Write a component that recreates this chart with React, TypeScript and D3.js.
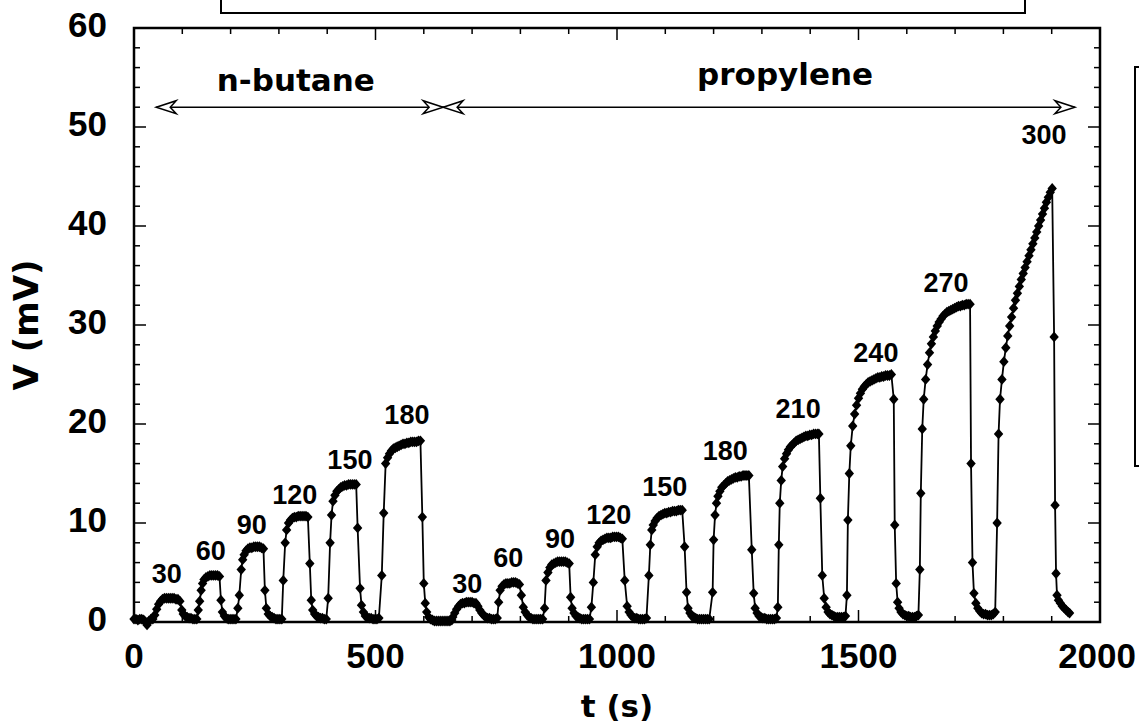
import React from "react";
import * as d3 from "d3";

// ---------- data (t in s, V in mV) ----------
const nButane: [number, number][] = [
  [0,0.3],[4,0.3],[8,0.2],[12,0.3],[16,0.3],[20,0.2],[24,0.0],[27,-0.3],[31,0.1],[35,0.3],[39,0.3],
  [43,0.7],[47,1.3],[51,1.8],[55,2.1],[59,2.3],[63,2.4],[67,2.4],[71,2.4],[75,2.4],[79,2.4],[83,2.4],[87,2.3],[91,2.3],[95,2.1],
  [99,1.2],[102,0.8],[106,0.6],[110,0.5],[114,0.4],[118,0.4],[122,0.3],[126,0.3],[130,0.3],
  [133,1.2],[136,2.1],[139,3.2],[142,3.9],[145,4.3],[149,4.5],[153,4.6],[157,4.7],[161,4.7],[165,4.7],[169,4.7],[173,4.7],[177,4.6],
  [180,2.2],[183,1.0],[187,0.6],[191,0.4],[195,0.3],[199,0.3],[203,0.3],[207,0.3],[211,0.3],
  [215,1.4],[218,2.7],[222,5.3],[225,6.3],[228,6.8],[232,7.2],[236,7.4],[240,7.5],[244,7.5],[248,7.6],[252,7.6],[256,7.6],[260,7.6],[264,7.5],[268,7.4],
  [271,3.2],[274,1.4],[278,0.8],[282,0.6],[286,0.5],[290,0.4],[294,0.3],[298,0.3],[302,0.3],[306,0.3],
  [309,4.2],[313,8.0],[316,9.3],[320,10.0],[324,10.3],[328,10.5],[332,10.6],[336,10.6],[340,10.7],[344,10.7],[348,10.7],[352,10.7],[356,10.7],[360,10.6],
  [364,5.9],[367,2.2],[370,1.2],[374,0.8],[378,0.6],[382,0.5],[386,0.4],[390,0.4],[394,0.3],[398,0.3],
  [402,2.4],[406,8.0],[409,10.8],[412,12.2],[416,12.8],[420,13.2],[424,13.4],[428,13.6],[432,13.7],[436,13.8],[440,13.8],[444,13.9],[448,13.9],[452,13.9],[456,13.9],[460,13.9],
  [463,9.5],[468,3.4],[471,1.7],[475,1.0],[479,0.6],[483,0.5],[487,0.4],[491,0.4],[495,0.3],[499,0.3],[503,0.3],[507,0.4],
  [513,4.7],[517,11.0],[521,16.0],[525,16.6],[529,17.0],[533,17.3],[537,17.5],[541,17.6],[545,17.7],[549,17.8],[553,17.9],[557,18.0],[561,18.0],[565,18.1],[569,18.1],[573,18.2],[577,18.2],[581,18.2],[585,18.2],[589,18.3],[593,18.3],
  [597,10.6],[600,3.9],[603,1.9],[606,1.0],[610,0.5],[614,0.3],[618,0.2],[622,0.1],[626,0.1],[630,0.1],[634,0.1],[638,0.1],[642,0.1],[646,0.1],[650,0.1],[654,0.1],[658,0.2],
];

const propylene: [number, number][] = [
  [660,0.5],[664,0.9],[668,1.3],[672,1.6],[676,1.8],[680,1.9],[684,1.9],[688,2.0],[692,2.0],[696,2.0],[700,2.0],[704,1.9],[708,1.9],
  [712,1.6],[716,1.2],[720,0.9],[724,0.7],[728,0.5],[732,0.4],[736,0.4],[740,0.3],[744,0.3],[748,0.3],[752,0.4],
  [755,2.0],[758,3.2],[762,3.6],[766,3.8],[770,3.9],[774,3.9],[778,3.9],[782,4.0],[786,4.0],[790,4.0],[794,3.9],[798,3.8],
  [802,2.7],[806,1.5],[810,1.0],[814,0.7],[818,0.5],[822,0.4],[826,0.3],[830,0.3],[834,0.3],[838,0.3],[842,0.3],[846,0.3],
  [850,1.4],[853,4.2],[857,5.0],[861,5.5],[865,5.8],[869,5.9],[873,6.0],[877,6.1],[881,6.1],[885,6.1],[889,6.1],[893,6.1],[897,6.0],[901,5.9],
  [904,2.5],[907,1.4],[911,0.9],[915,0.6],[919,0.5],[923,0.4],[927,0.3],[931,0.3],[935,0.3],[939,0.3],[943,0.3],
  [947,1.5],[951,4.0],[955,6.8],[959,7.6],[963,8.0],[967,8.2],[971,8.3],[975,8.4],[979,8.5],[983,8.5],[987,8.5],[991,8.6],[995,8.6],[999,8.6],[1003,8.6],[1007,8.5],[1011,8.4],
  [1016,4.2],[1021,1.6],[1025,1.0],[1029,0.7],[1033,0.5],[1037,0.4],[1041,0.4],[1045,0.3],[1049,0.3],[1053,0.3],[1057,0.3],[1061,0.4],
  [1066,4.7],[1069,7.8],[1072,9.3],[1075,9.8],[1079,10.2],[1083,10.5],[1087,10.7],[1091,10.8],[1095,10.9],[1099,11.0],[1103,11.0],[1107,11.1],[1111,11.1],[1115,11.2],[1119,11.2],[1123,11.2],[1127,11.3],[1131,11.3],[1135,11.3],
  [1140,7.6],[1144,3.0],[1147,1.4],[1151,0.9],[1155,0.6],[1159,0.5],[1163,0.4],[1167,0.3],[1171,0.3],[1175,0.3],[1179,0.3],[1183,0.3],[1187,0.3],[1191,0.3],
  [1198,3.0],[1200,8.3],[1203,10.8],[1206,12.0],[1209,12.7],[1213,13.2],[1217,13.6],[1221,13.8],[1225,14.0],[1229,14.2],[1233,14.3],[1237,14.4],[1241,14.5],[1245,14.6],[1249,14.6],[1253,14.7],[1257,14.7],[1261,14.8],[1265,14.8],[1269,14.8],[1273,14.8],
  [1279,7.3],[1283,2.9],[1286,1.4],[1290,0.9],[1294,0.6],[1298,0.5],[1302,0.4],[1306,0.4],[1310,0.3],[1314,0.3],[1318,0.3],[1322,0.3],[1326,0.3],[1330,0.4],
  [1333,1.5],[1335,7.8],[1337,12.0],[1340,14.3],[1343,15.7],[1347,16.5],[1351,17.0],[1355,17.4],[1359,17.7],[1363,17.9],[1367,18.1],[1371,18.3],[1375,18.4],[1379,18.5],[1383,18.6],[1387,18.7],[1391,18.8],[1395,18.8],[1399,18.9],[1403,18.9],[1407,19.0],[1411,19.0],[1415,19.0],[1418,19.0],
  [1421,12.5],[1425,4.7],[1429,2.4],[1433,1.5],[1437,1.0],[1441,0.8],[1445,0.7],[1449,0.6],[1453,0.5],[1457,0.5],[1461,0.5],[1465,0.5],[1469,0.5],[1473,0.6],
  [1476,2.7],[1478,10.3],[1481,15.0],[1484,17.8],[1488,19.8],[1492,21.0],[1496,21.9],[1500,22.6],[1504,23.1],[1508,23.5],[1512,23.8],[1516,24.0],[1520,24.2],[1524,24.3],[1528,24.4],[1532,24.5],[1536,24.6],[1540,24.7],[1544,24.7],[1548,24.8],[1552,24.8],[1556,24.9],[1560,24.9],[1564,24.9],[1568,25.0],
  [1573,22.5],[1575,9.8],[1578,3.9],[1581,2.0],[1584,1.4],[1588,1.0],[1592,0.8],[1596,0.7],[1600,0.6],[1604,0.6],[1608,0.5],[1612,0.5],[1616,0.5],[1620,0.6],[1624,0.7],
  [1627,5.3],[1629,13.0],[1632,19.5],[1635,22.5],[1639,24.5],[1643,26.0],[1647,27.2],[1651,28.1],[1655,28.8],[1659,29.4],[1663,29.9],[1667,30.3],[1671,30.6],[1675,30.9],[1679,31.1],[1683,31.3],[1687,31.4],[1691,31.5],[1695,31.6],[1699,31.7],[1703,31.8],[1707,31.9],[1711,31.9],[1715,32.0],[1719,32.0],[1723,32.1],[1727,32.1],[1731,32.1],
  [1733,16.0],[1736,6.0],[1739,2.9],[1743,1.9],[1747,1.4],[1751,1.1],[1755,0.9],[1759,0.8],[1763,0.8],[1767,0.7],[1771,0.7],[1775,0.7],[1779,0.8],[1783,1.0],
  [1787,10.0],[1790,19.0],[1793,22.5],[1797,24.5],[1801,26.3],[1805,27.7],[1809,28.9],[1813,29.9],[1817,30.8],[1821,31.7],[1825,32.5],[1829,33.2],[1833,33.9],[1837,34.6],[1841,35.2],[1845,35.8],[1849,36.4],[1853,37.0],[1857,37.6],[1861,38.2],[1865,38.8],[1869,39.4],[1873,40.0],[1877,40.6],[1881,41.2],[1885,41.8],[1889,42.4],[1893,42.9],[1897,43.4],[1901,43.8],
  [1905,28.8],[1907,11.8],[1909,4.9],[1911,2.7],[1914,2.2],[1918,1.9],[1922,1.6],[1926,1.4],[1930,1.2],[1934,1.0],[1937,0.9],
];

const labelText = ["30","60","90","120","150","180","30","60","90","120","150","180","210","240","270","300"];
const labelT = [68,159,244,333,447,565,690,775,882,983,1099,1224,1375,1536,1681,1884];
const labelV = [4.9,7.3,9.9,12.9,16.5,21.0,3.9,6.6,8.5,10.9,13.7,17.4,21.6,27.3,34.3,49.3];

const gasNames = ["n-butane", "propylene"];
const gasStart = [46, 640];
const gasEnd = [640, 1948];
const gasLabelT = [335, 1348];
const arrowV = 52;

const xTicksMajor = [0, 500, 1000, 1500, 2000];
const yTicksMajor = [0, 10, 20, 30, 40, 50, 60];

export default function App() {
  const W = 1139, H = 725;
  const L = 134, R = 1100, T = 28, B = 622;
  const x = d3.scaleLinear().domain([0, 2000]).range([L, R]);
  const y = d3.scaleLinear().domain([0, 60]).range([B, T]);
  const all = [...nButane, ...propylene];
  const line = d3.line<[number, number]>().x(d => x(d[0])).y(d => y(d[1]));
  const xMinor = d3.range(0, 2001, 100);
  const yMinor = d3.range(0, 61, 2);
  const arial = "'Liberation Sans', Arial, Helvetica, sans-serif";
  const dejavu = "'DejaVu Sans', Verdana, sans-serif";
  const diamond = "M0,-5.4L4.7,0L0,5.4L-4.7,0Z";
  const head = (tip: number, dir: number, yy: number) =>
    `M${tip},${yy}L${tip - dir * 20},${yy - 6.5}L${tip - dir * 14},${yy}L${tip - dir * 20},${yy + 6.5}Z`;
  return (
    <svg width={W} height={H} style={{ position: "absolute", left: 0, top: 0, background: "#fff" }} fontFamily={arial} fontWeight="bold">
      {/* top (cut) box */}
      <rect x={221} y={-40} width={804} height={53} fill="none" stroke="#000" strokeWidth={2} />
      {/* right (cut) box */}
      <rect x={1135} y={67} width={60} height={399} fill="none" stroke="#000" strokeWidth={2} />
      {/* ticks */}
      {xMinor.map(v => {
        const major = v % 500 === 0;
        const len = major ? 12 : 6;
        return (
          <g key={"xt" + v}>
            <line x1={x(v)} x2={x(v)} y1={B} y2={B - len} stroke="#000" strokeWidth={1.5} />
            <line x1={x(v)} x2={x(v)} y1={T} y2={T + len} stroke="#000" strokeWidth={1.5} />
          </g>
        );
      })}
      {yMinor.map(v => {
        const major = v % 10 === 0;
        const len = major ? 12 : 6;
        return (
          <g key={"yt" + v}>
            <line x1={L} x2={L + len} y1={y(v)} y2={y(v)} stroke="#000" strokeWidth={1.5} />
            <line x1={R} x2={R - len} y1={y(v)} y2={y(v)} stroke="#000" strokeWidth={1.5} />
          </g>
        );
      })}
      <rect x={L} y={T} width={R - L} height={B - T} fill="none" stroke="#000" strokeWidth={2.5} />
      {xTicksMajor.map((v, i) => {
        const last = i === xTicksMajor.length - 1;
        return (
          <text key={"xl" + v} x={last ? W - 3 : x(v)} y={668} fontSize={35} textAnchor={last ? "end" : "middle"}>{v}</text>
        );
      })}
      {yTicksMajor.map(v => (
        <text key={"yl" + v} x={107} y={y(v) + 9} fontSize={35} textAnchor="end">{v}</text>
      ))}
      <text x={(L + R) / 2} y={717} fontSize={31} fontFamily={dejavu} textAnchor="middle">t (s)</text>
      <text transform={`translate(38,${(T + B) / 2}) rotate(-90)`} fontSize={34} fontFamily={dejavu} textAnchor="middle">V (mV)</text>
      {/* gas arrows */}
      {gasNames.map((g, i) => (
        <g key={g}>
          <line x1={x(gasStart[i])} x2={x(gasEnd[i])} y1={y(arrowV)} y2={y(arrowV)} stroke="#000" strokeWidth={1.5} />
          <path d={head(x(gasStart[i]), -1, y(arrowV))} fill="#fff" stroke="#000" strokeWidth={1.5} />
          <path d={head(x(gasEnd[i]), 1, y(arrowV))} fill="#fff" stroke="#000" strokeWidth={1.5} />
          <text x={x(gasLabelT[i])} y={i === 0 ? 91 : 85} fontSize={31} fontFamily={dejavu} textAnchor="middle">{g}</text>
        </g>
      ))}
      {/* data */}
      <path d={line(all) || ""} fill="none" stroke="#000" strokeWidth={1.8} />
      {all.map((d, i) => (
        <path key={"p" + i} d={diamond} transform={`translate(${x(d[0])},${y(d[1])})`} fill="#000" />
      ))}
      {labelText.map((s, i) => (
        <text key={"lb" + i} x={x(labelT[i])} y={y(labelV[i]) + 10} fontSize={27} textAnchor="middle">{s}</text>
      ))}
    </svg>
  );
}
